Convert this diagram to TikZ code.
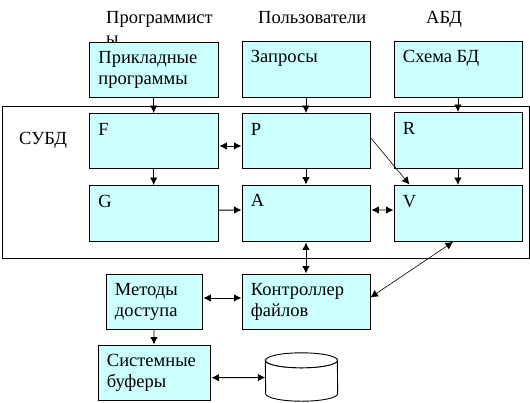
\documentclass[tikz,border=0pt]{standalone}
\usepackage{fontspec}
\setmainfont{Liberation Serif}
\usetikzlibrary{arrows.meta,calc}
\definecolor{boxfill}{HTML}{CCFFFF}
\tikzset{
  txt/.style={inner sep=0pt,anchor=base west,font=\fontsize{18.5bp}{21bp}\selectfont},
  boxbase/.style={draw=black,line width=0.9bp,fill=boxfill,inner sep=0pt,anchor=north west,font=\fontsize{18.5bp}{21bp}\selectfont},
  conn/.style={line width=0.9bp,-{Latex[length=7.5bp,width=7.5bp]}},
  dconn/.style={line width=0.9bp,{Latex[length=7.5bp,width=7.5bp]}-{Latex[length=7.5bp,width=7.5bp]}},
  thinconn/.style={line width=0.6bp,-{Latex[length=7.5bp,width=7.5bp]}},
  thindconn/.style={line width=0.6bp,{Latex[length=7.5bp,width=7.5bp]}-{Latex[length=7.5bp,width=7.5bp]}},
  diskline/.style={draw=black,line width=0.9bp,fill=white}
}
% name, x, y, w, h, text
\newcommand{\boxnode}[6]{\node[boxbase,minimum width=#4bp,minimum height=#5bp] (#1) at (#2,#3)
  {\parbox[c][#5bp][t]{#4bp}{\vspace{9.5bp}\leftskip=9bp\rightskip=0pt plus 1fil\parindent=0pt #6\par}};}
\begin{document}
\begin{tikzpicture}[x=1bp,y=-1bp]
\useasboundingbox (0,0) rectangle (530,402);
\node[txt] (hp) at (106,23) {Программист};
\node[txt] (hq) at (106,44) {ы};
\node[txt] (hu) at (258,23) {Пользователи};
\node[txt] (hd) at (426,23) {АБД};
\node[draw=black,line width=0.9bp,minimum width=527.5bp,minimum height=152bp,inner sep=0pt,anchor=north west] (dbms) at (1.5,105.5) {};
\node[txt] (lbl) at (19,144) {СУБД};
\boxnode{app}{89}{41.5}{128.5}{55}{Прикладные\\программы}
\boxnode{qry}{241.5}{40.5}{128}{56}{Запросы}
\boxnode{sch}{393.5}{40.5}{128}{56}{Схема БД}
\boxnode{f}{89}{113}{128.5}{55}{F}
\boxnode{p}{241.5}{113}{128}{55}{P}
\boxnode{r}{393.5}{112}{128}{56}{R}
\boxnode{g}{89}{185}{128.5}{55.5}{G}
\boxnode{a}{241.5}{184.5}{128}{56}{A}
\boxnode{v}{393.5}{185}{128}{55.5}{V}
\boxnode{m}{105.5}{273.5}{96}{55}{Методы\\доступа}
\boxnode{c}{241.5}{273.5}{128}{55}{Контроллер\\файлов}
\boxnode{s}{97.5}{344.5}{112}{55.5}{Системные\\буферы}
\node[inner sep=0pt,minimum width=72bp,minimum height=48bp] (disk) at (301.5,377) {};
\path[diskline] ($(disk.north west)+(0,7.5)$) arc[start angle=180,end angle=360,x radius=36bp,y radius=7.5bp]
  -- ($(disk.south east)+(0,-7.5)$) arc[start angle=0,end angle=-180,x radius=36bp,y radius=7.5bp] -- cycle;
\path[diskline] ($(disk.north)+(0,7.5)$) ellipse[x radius=36bp,y radius=7.5bp];
\draw[conn] (app.south) -- (f.north);
\draw[conn] (qry.south) -- (p.north);
\draw[conn] (sch.south) -- (r.north);
\draw[dconn] ($(f.east)+(1,5)$) -- ($(p.west)+(0,5)$);
\draw[conn] (f.south) -- (g.north);
\draw[conn] (p.south) -- (a.north);
\draw[conn] (r.south) -- (v.north);
\draw[thinconn] ($(p.east)+(0,-3.5)$) -- ($(v.north west)+(16,-0.5)$);
\draw[conn] ($(g.east)+(0,-3)$) -- ($(a.west)+(0,-3)$);
\draw[dconn] ($(a.east)+(1,-3)$) -- ($(v.west)+(0,-3.2)$);
\draw[dconn] ($(a.south)+(0,1)$) -- (c.north);
\draw[thindconn] ($(v.south west)+(59.5,0.5)$) -- ($(c.east)+(0,-4)$);
\draw[dconn] ($(m.east)+(1,-3.5)$) -- ($(c.west)+(0,-3.5)$);
\draw[conn] (m.south) -- (s.north);
\draw[dconn] ($(s.east)+(1,5)$) -- (disk.west |- 0,377.5);
\end{tikzpicture}
\end{document}
